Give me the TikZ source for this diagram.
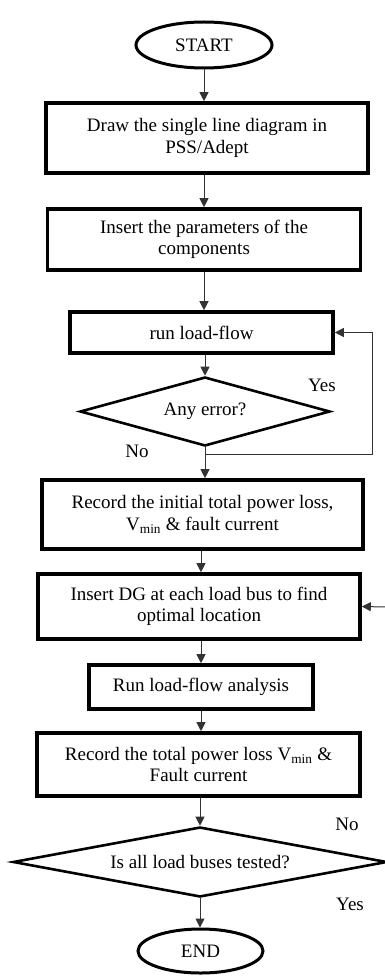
\documentclass[tikz,border=0pt]{standalone}
\usepackage{fontspec}
\setmainfont{Liberation Serif}
\usetikzlibrary{shapes.geometric,arrows.meta}
\begin{document}
\begin{tikzpicture}[x=1pt,y=-1pt,
  every node/.style={font=\fontsize{19}{21.5}\selectfont},
  stepbox/.style={draw=black,line width=3.6pt,rectangle,align=center,inner sep=0pt},
  term/.style={draw=black,line width=3pt,ellipse,inner sep=0pt},
  decide/.style={draw=black,line width=2.6pt,diamond,inner sep=0pt},
  arr/.style={draw=black!80,line width=1pt,-{Triangle[length=9pt,width=9pt]}},
  ln/.style={draw=black!80,line width=1pt},
  lbl/.style={inner sep=0pt}]
\useasboundingbox (0,0) rectangle (385,976);
\node[term,minimum width=136pt,minimum height=46pt] (start) at (204,45) {START};
\node[stepbox,minimum width=322pt,minimum height=70pt] (b1) at (207,138) {Draw the single line diagram in\\PSS/Adept};
\node[stepbox,minimum width=313pt,minimum height=61pt] (b2) at (204,239.5) {Insert the parameters of the\\components};
\node[stepbox,minimum width=263pt,minimum height=41pt] (b3) at (201.5,332.5) {run load-flow};
\node[decide,shape aspect=3.6,minimum width=250pt,minimum height=69pt] (d1) at (205,411.5) {Any error?};
\node[stepbox,minimum width=321pt,minimum height=69pt] (b4) at (202.5,514.5) {Record the initial total power loss,\\V\textsubscript{min} \& fault current};
\node[stepbox,minimum width=322pt,minimum height=65pt] (b5) at (199,606.5) {Insert DG at each load bus to find\\optimal location};
\node[stepbox,minimum width=224pt,minimum height=44pt] (b6) at (201,687) {Run load-flow analysis};
\node[stepbox,minimum width=323pt,minimum height=63pt] (b7) at (198.5,764.5) {Record the total power loss V\textsubscript{min} \&\\Fault current};
\node[decide,shape aspect=5,minimum width=374pt,minimum height=70pt] (d2) at (200,862) {Is all load buses tested?};
\node[term,minimum width=125pt,minimum height=44pt] (end) at (200.5,951) {END};
\node[lbl] (yes1) at (322,385) {Yes};
\node[lbl] (no1) at (137,451) {No};
\node[lbl] (no2) at (347,824) {No};
\node[lbl] (yes2) at (350,904) {Yes};
\coordinate (j) at (205,454);
\coordinate (lp) at (372,454);
\coordinate (nr) at (386,607);
\draw[arr] (start.south) -- (start.south |- b1.north);
\draw[arr] (b1.south -| start.south) -- (start.south |- b2.north);
\draw[arr] (b2.south) -- (b2.south |- b3.north);
\draw[arr] (b3.south -| d1.north) -- (d1.north);
\draw[ln] (d1.south) -- (j);
\draw[arr] (j) -- (j |- b4.north);
\draw[arr] (j) -- (lp) |- (b3.east);
\draw[arr] (b4.south -| b6.north) -- (b6.north |- b5.north);
\draw[arr] (b5.south -| b6.north) -- (b6.north);
\draw[arr] (b6.south) -- (b6.south |- b7.north);
\draw[arr] (b7.south -| d2.north) -- (d2.north);
\draw[arr] (d2.south) -- (d2.south |- end.north);
\draw[arr] (nr) -- (b5.east);
\end{tikzpicture}
\end{document}
